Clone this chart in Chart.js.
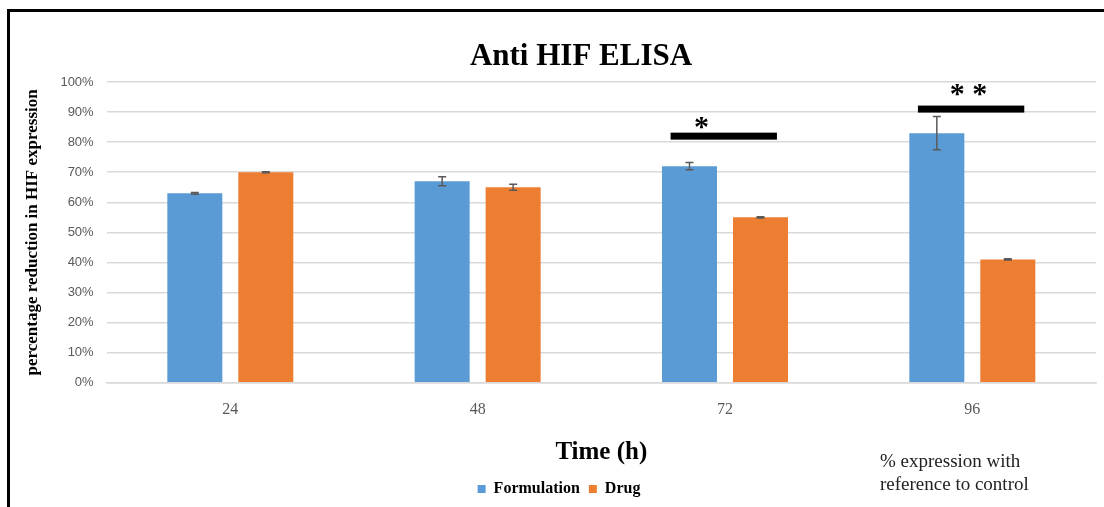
<!DOCTYPE html>
<html>
<head>
<meta charset="utf-8">
<script src="https://cdn.jsdelivr.net/npm/chart.js@4.4.0/dist/chart.umd.min.js"></script>
<style>
  body { margin: 0; background: #fff; }
  #wrap { position: relative; width: 1104px; height: 507px; overflow: hidden; }
  #frame { position: absolute; left: 7px; top: 9px; width: 1200px; height: 600px;
           border-left: 3px solid #000; border-top: 3px solid #000; }
  canvas { position: absolute; left: 0; top: 0; }
</style>
</head>
<body>
<div id="wrap">
  <div id="frame"></div>
  <canvas id="canvas" width="1104" height="507"></canvas>
</div>
<script>
/* datos */

const times = ['24', '48', '72', '96'];
const formulation = [63, 67, 72, 83];
const formulationErr = [0.3, 1.5, 1.2, 5.5];
const drug = [70, 65, 55, 41];
const drugErr = [0.2, 1, 0.2, 0.2];
const yTicks = [0, 10, 20, 30, 40, 50, 60, 70, 80, 90, 100];

// significance markers: category, level of the bar, level of the stars, label
const sigCats = ['72', '96'];
const sigLevels = [82, 91];
const sigStarLevels = [87, 98];
const sigLabels = ['*', '* *'];

const serif = '"Liberation Serif", "Times New Roman", serif';
const sans = '"Liberation Sans", Arial, sans-serif';
const errs = [formulationErr, drugErr];

/* plugin: barras de error, significancia, textos */

const extras = {
  id: 'extras',
  afterDatasetsDraw(chart) {
    const c = chart.ctx;
    const ys = chart.scales.y;
    const xs = chart.scales.x;

    // error bars
    c.save();
    c.strokeStyle = '#595959';
    c.lineWidth = 1.5;
    chart.data.datasets.forEach(function(ds, i) {
      const meta = chart.getDatasetMeta(i);
      meta.data.forEach(function(bar, j) {
        const v = ds.data[j];
        const e = errs[i][j];
        const top = ys.getPixelForValue(v + e);
        const bot = ys.getPixelForValue(v - e);
        c.beginPath();
        c.moveTo(bar.x, top); c.lineTo(bar.x, bot);
        c.moveTo(bar.x - 4, top); c.lineTo(bar.x + 4, top);
        c.moveTo(bar.x - 4, bot); c.lineTo(bar.x + 4, bot);
        c.stroke();
      });
    });

    // significance bars
    const catW = (xs.right - xs.left) / times.length;
    c.fillStyle = '#000';
    sigCats.forEach(function(cat, k) {
      const cx = xs.getPixelForValue(times.indexOf(cat));
      const y = ys.getPixelForValue(sigLevels[k]);
      c.fillRect(cx - 0.22 * catW, y - 3.5, 0.43 * catW, 7);
      c.font = 'bold 30px ' + serif;
      c.textAlign = 'center';
      c.textBaseline = 'alphabetic';
      const sy = ys.getPixelForValue(sigStarLevels[k]);
      c.fillText(sigLabels[k], cx - 0.095 * catW + k * 0.08 * catW, sy + 15);
    });

    // title
    c.font = 'bold 31px ' + serif;
    c.textAlign = 'center';
    c.textBaseline = 'middle';
    c.fillText('Anti HIF ELISA', 581, 57);

    // note
    c.font = '19px ' + serif;
    c.textAlign = 'left';
    c.fillStyle = '#222';
    c.fillText('% expression with', 880, 462);
    c.fillText('reference to control', 880, 485);
    c.restore();
  }
};

/* grafica */

const ctx = document.getElementById('canvas');

var data = {
  labels: times,
  datasets: [{
    label: 'Formulation',
    data: formulation,
    backgroundColor: '#5B9BD5',
    categoryPercentage: 0.574,
    barPercentage: 0.775
  }, {
    label: 'Drug',
    data: drug,
    backgroundColor: '#ED7D31',
    categoryPercentage: 0.574,
    barPercentage: 0.775
  }]
};

var options = {
  responsive: false,
  animation: false,
  layout: { padding: { top: 82, left: 22, right: 8, bottom: 0 } },
  plugins: {
    title: { display: false },
    tooltip: { enabled: false },
    legend: {
      position: 'bottom',
      labels: {
        boxWidth: 8, boxHeight: 8, padding: 9, color: '#000',
        font: { family: serif, size: 16, weight: 'bold' }
      }
    }
  },
  scales: {
    y: {
      min: 0, max: 100,
      afterBuildTicks: function(axis) {
        axis.ticks = yTicks.map(function(v) { return { value: v }; });
      },
      grid: { color: '#d9d9d9', lineWidth: 1.5, drawTicks: false },
      border: { display: false },
      ticks: {
        padding: 13, color: '#595959',
        font: { family: sans, size: 13 },
        callback: function(v) { return v + '%'; }
      },
      title: {
        display: true,
        text: 'percentage reduction in HIF expression',
        color: '#000',
        font: { family: serif, size: 17, weight: 'bold' },
        padding: { top: 0, bottom: 5 }
      }
    },
    x: {
      grid: { display: false },
      border: { color: '#d9d9d9', width: 1.5 },
      ticks: {
        padding: 9, color: '#595959',
        font: { family: serif, size: 16 }
      },
      title: {
        display: true,
        text: 'Time (h)',
        color: '#000',
        font: { family: serif, size: 25, weight: 'bold' },
        padding: { top: 10, bottom: 4 }
      }
    }
  }
};

var chart1 = new Chart(ctx, {
  type: 'bar',
  data: data,
  options: options,
  plugins: [extras]
});
</script>
</body>
</html>
